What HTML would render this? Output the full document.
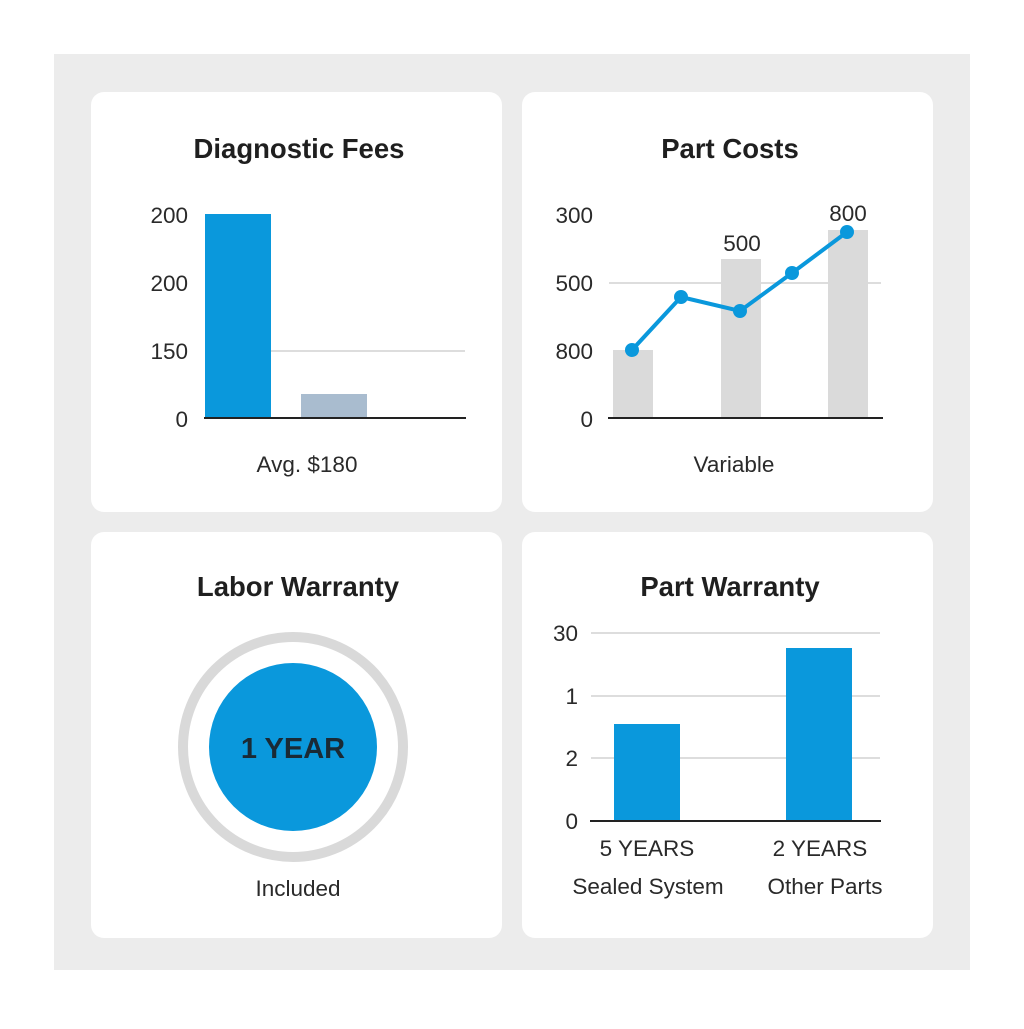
<!DOCTYPE html>
<html><head><style>
body{margin:0;width:1024px;height:1024px;background:#fff;font-family:"Liberation Sans",sans-serif;}
</style></head><body>
<svg width="1024" height="1024" viewBox="0 0 1024 1024" font-family="Liberation Sans, sans-serif">
<rect x="54" y="54" width="916" height="916" fill="#ececec"/>
<rect x="91" y="92" width="411" height="420" rx="13" fill="#fff"/>
<rect x="522" y="92" width="411" height="420" rx="13" fill="#fff"/>
<rect x="91" y="532" width="411" height="406" rx="13" fill="#fff"/>
<rect x="522" y="532" width="411" height="406" rx="13" fill="#fff"/>
<g font-size="27.5" font-weight="bold" fill="#1f1f1f" text-anchor="middle">
<text x="299" y="158">Diagnostic Fees</text>
<text x="730" y="158">Part Costs</text>
<text x="298" y="596">Labor Warranty</text>
<text x="730" y="596">Part Warranty</text>
</g>
<g font-size="22.5" fill="#2a2a2a">
<line x1="271" y1="351" x2="465" y2="351" stroke="#ddd" stroke-width="2"/>
<rect x="205" y="214" width="66" height="204" fill="#0a98dc"/>
<rect x="301" y="394" width="66" height="24" fill="#a9bccf"/>
<line x1="204" y1="418" x2="466" y2="418" stroke="#222" stroke-width="2"/>
<g text-anchor="end"><text x="188" y="223">200</text><text x="188" y="291">200</text><text x="188" y="359">150</text><text x="188" y="427">0</text></g>
<text x="307" y="472" text-anchor="middle">Avg. $180</text>
<line x1="609" y1="283" x2="881" y2="283" stroke="#ddd" stroke-width="2"/>
<rect x="613" y="350" width="40" height="68" fill="#dadada"/>
<rect x="721" y="259" width="40" height="159" fill="#dadada"/>
<rect x="828" y="230" width="40" height="188" fill="#dadada"/>
<line x1="608" y1="418" x2="883" y2="418" stroke="#222" stroke-width="2"/>
<polyline points="632,350 681,297 740,311 792,273 847,232" fill="none" stroke="#0a98dc" stroke-width="4"/>
<g fill="#0a98dc"><circle cx="632" cy="350" r="7"/><circle cx="681" cy="297" r="7"/><circle cx="740" cy="311" r="7"/><circle cx="792" cy="273" r="7"/><circle cx="847" cy="232" r="7"/></g>
<g text-anchor="end"><text x="593" y="223">300</text><text x="593" y="291">500</text><text x="593" y="359">800</text><text x="593" y="427">0</text></g>
<text x="742" y="251" text-anchor="middle">500</text>
<text x="848" y="221" text-anchor="middle">800</text>
<text x="734" y="472" text-anchor="middle">Variable</text>
<circle cx="293" cy="747" r="110" fill="none" stroke="#d9d9d9" stroke-width="10"/>
<circle cx="293" cy="747" r="84" fill="#0a98dc"/>
<text x="293" y="758" text-anchor="middle" font-size="29" font-weight="bold" fill="#1a2a35">1 YEAR</text>
<text x="298" y="896" text-anchor="middle">Included</text>
<g stroke="#ddd" stroke-width="2"><line x1="591" y1="633" x2="880" y2="633"/><line x1="591" y1="696" x2="880" y2="696"/><line x1="591" y1="758" x2="880" y2="758"/></g>
<rect x="614" y="724" width="66" height="97" fill="#0a98dc"/>
<rect x="786" y="648" width="66" height="173" fill="#0a98dc"/>
<line x1="590" y1="821" x2="881" y2="821" stroke="#222" stroke-width="2"/>
<g text-anchor="end"><text x="578" y="641">30</text><text x="578" y="704">1</text><text x="578" y="766">2</text><text x="578" y="829">0</text></g>
<g text-anchor="middle"><text x="647" y="856">5 YEARS</text><text x="648" y="894">Sealed System</text><text x="820" y="856">2 YEARS</text><text x="825" y="894">Other Parts</text></g>
</g>
</svg>
</body></html>
